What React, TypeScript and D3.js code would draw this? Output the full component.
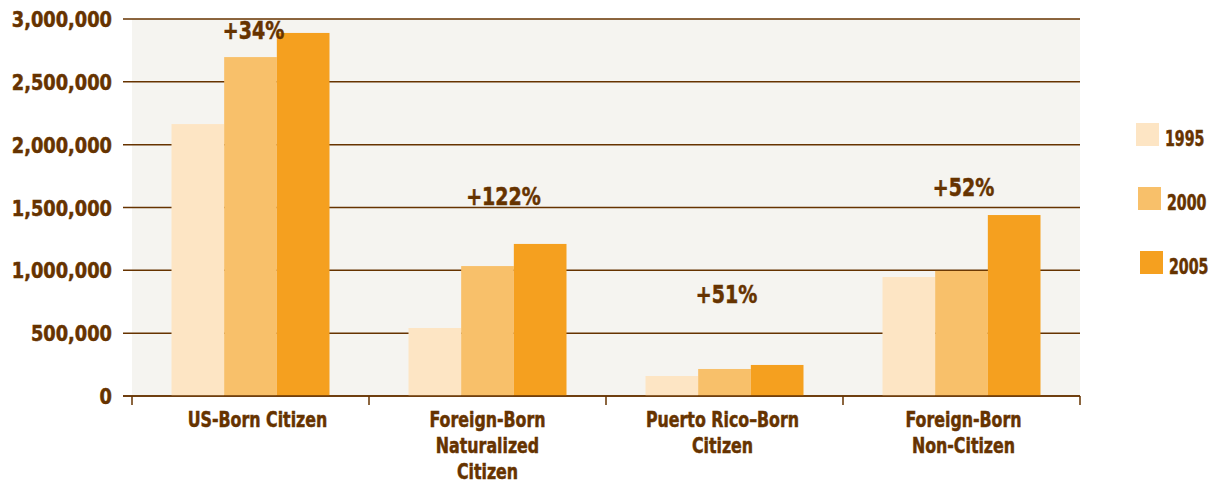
import React from "react";
import * as d3 from "d3";

const categories = [
  ["US-Born Citizen"],
  ["Foreign-Born", "Naturalized", "Citizen"],
  ["Puerto Rico\u2013Born", "Citizen"],
  ["Foreign-Born", "Non-Citizen"],
];
const years = ["1995", "2000", "2005"];
const values1995 = [2164000, 541000, 159000, 947000];
const values2000 = [2697000, 1034000, 215000, 995000];
const values2005 = [2889000, 1210000, 247000, 1440000];
const changeLabels = ["+34%", "+122%", "+51%", "+52%"];
const changeLabelValues = [2840000, 1520000, 740000, 1590000];
const yTicks = [0, 500000, 1000000, 1500000, 2000000, 2500000, 3000000];

const colors = ["#fde5c4", "#f8c06a", "#f5a01f"];
const brown = "#663300";
const font = "'DejaVu Sans Condensed', 'DejaVu Sans', sans-serif";

function CText({ x, y, s, size, anchor, children }: any) {
  return (
    <g transform={`translate(${x},${y}) scale(${s},1)`}>
      <text x={0} y={0} textAnchor={anchor} fontFamily={font} fontWeight="bold" fontSize={size} fill={brown} stroke={brown} strokeWidth={0.5}>
        {children}
      </text>
    </g>
  );
}

export default function App() {
  const W = 1212, H = 491;
  const left = 132, right = 1080, top = 19, bottom = 396;
  const series = [values1995, values2000, values2005];
  const x = d3.scaleBand<number>().domain(d3.range(categories.length)).range([left, right]).paddingInner(0).paddingOuter(0);
  const inner = d3.scaleBand<number>().domain(d3.range(years.length)).range([0, x.bandwidth()]).paddingOuter(0.75).paddingInner(0);
  const y = d3.scaleLinear().domain([0, 3000000]).range([bottom, top]);
  const fmt = d3.format(",");
  const tickXs = d3.range(categories.length + 1).map((i) => left + i * x.bandwidth());
  const changeDx = [3, 16, 2, 2];
  const catDx = [7, 0, -2, 2];

  return (
    <svg width={W} height={H} style={{ position: "absolute", left: 0, top: 0 }}>
      <rect x={0} y={0} width={W} height={H} fill="#ffffff" />
      <rect x={left} y={top} width={right - left} height={bottom - top} fill="#f5f4f0" />
      {yTicks.map((t) => (
        <g key={t}>
          <line x1={123} x2={right} y1={y(t)} y2={y(t)} stroke={brown} strokeWidth={1.5} />
          <CText x={112} y={y(t) + 8} s={0.9} size={22} anchor="end">
            {fmt(t)}
          </CText>
        </g>
      ))}
      {series.map((vals, s) =>
        vals.map((v, i) => (
          <rect
            key={s + "-" + i}
            x={(x(i) as number) + (inner(s) as number)}
            y={y(v)}
            width={inner.bandwidth()}
            height={bottom - y(v)}
            fill={colors[s]}
          />
        ))
      )}
      <line x1={123} x2={right} y1={bottom} y2={bottom} stroke={brown} strokeWidth={1.5} />
      {tickXs.map((tx, i) => (
        <line key={i} x1={tx} x2={tx} y1={bottom} y2={bottom + 9} stroke={brown} strokeWidth={1.5} />
      ))}
      {categories.map((lines, i) =>
        lines.map((l, j) => (
          <CText key={i + "-" + j} x={(x(i) as number) + x.bandwidth() / 2 + catDx[i]} y={427 + j * 26} s={0.8} size={22} anchor="middle">
            {l}
          </CText>
        ))
      )}
      {changeLabels.map((l, i) => (
        <CText key={l} x={(x(i) as number) + x.bandwidth() / 2 + changeDx[i]} y={y(changeLabelValues[i])} s={0.88} size={24} anchor="middle">
          {l}
        </CText>
      ))}
      {years.map((yr, s) => (
        <g key={yr} transform={`translate(${1136 + s * 2},${123 + s * 64})`}>
          <rect x={0} y={0} width={23} height={23} fill={colors[s]} />
          <CText x={29} y={23} s={0.75} size={21} anchor="start">
            {yr}
          </CText>
        </g>
      ))}
    </svg>
  );
}
